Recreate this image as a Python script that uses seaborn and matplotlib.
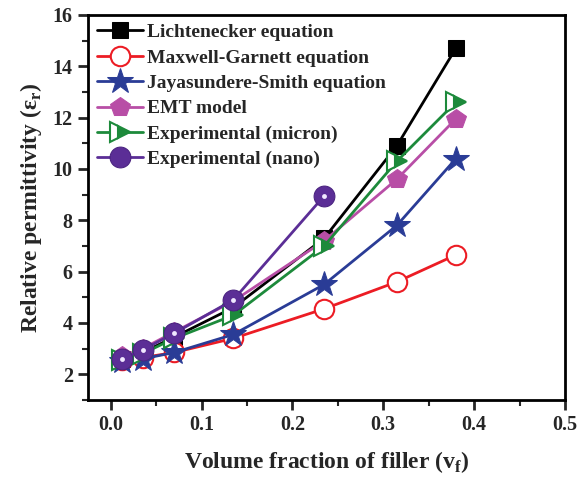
import matplotlib
matplotlib.use("Agg")
import matplotlib.pyplot as plt
import seaborn as sns
import pandas as pd
from matplotlib.ticker import MultipleLocator

sns.set_theme(style="ticks")
plt.rcParams['font.family'] = ['Liberation Serif', 'DejaVu Serif']
plt.rcParams['font.weight'] = 'bold'
plt.rcParams['axes.labelweight'] = 'bold'
plt.rcParams['mathtext.default'] = 'bf'

vf = [0.0125, 0.035, 0.07, 0.135, 0.235, 0.315, 0.38]
lichtenecker = [2.6, 2.85, 3.45, 4.6, 7.3, 10.9, 14.7]
maxwell = [2.55, 2.65, 2.85, 3.4, 4.55, 5.6, 6.65]
jayasundere = [2.5, 2.6, 2.85, 3.55, 5.5, 7.8, 10.4]
emt = [2.7, 3.0, 3.65, 4.85, 7.2, 9.6, 11.95]
exp_micron = [2.55, 2.8, 3.4, 4.3, 7.0, 10.3, 12.6]
vf_nano = [0.0125, 0.035, 0.07, 0.135, 0.235]
exp_nano = [2.6, 2.95, 3.6, 4.9, 8.95]

labels = ["Lichtenecker equation", "Maxwell-Garnett equation",
          "Jayasundere-Smith equation", "EMT model",
          "Experimental (micron)", "Experimental (nano)"]

fig, ax = plt.subplots(figsize=(5.83, 4.79), dpi=100)
fig.subplots_adjust(left=0.151, right=0.969, top=0.969, bottom=0.165)

series = [
    (vf, lichtenecker, labels[0], dict(color="black", marker="s", markersize=12,
                                        markerfacecolor="black", markeredgecolor="black")),
    (vf, maxwell, labels[1], dict(color="#ec1c24", marker="o", markersize=14,
                                  markerfacecolor="white", markeredgecolor="#ec1c24", markeredgewidth=1.5)),
    (vf, jayasundere, labels[2], dict(color="#2a3c96", marker="*", markersize=19,
                                      markerfacecolor="#2a3c96", markeredgecolor="#2a3c96")),
    (vf, emt, labels[3], dict(color="#b84ea6", marker="p", markersize=15,
                              markerfacecolor="#b84ea6", markeredgecolor="#b84ea6")),
    (vf, exp_micron, labels[4], dict(color="#1d8a3b", marker=">", markersize=14,
                                     markerfacecolor="#1d8a3b", markerfacecoloralt="white",
                                     fillstyle="right", markeredgecolor="#1d8a3b", markeredgewidth=1.5)),
    (vf_nano, exp_nano, labels[5], dict(color="#5b2e96", marker="o", markersize=15,
                                        markerfacecolor="#5b2e96", markeredgecolor="#4a2380")),
]

for xs, ys, lab, kw in series:
    df = pd.DataFrame({"x": xs, "y": ys})
    sns.lineplot(data=df, x="x", y="y", ax=ax, label=lab, linewidth=2,
                 estimator=None, sort=False, **kw)

# highlight on nano spheres
dfn = pd.DataFrame({"x": vf_nano, "y": exp_nano})
ax.plot(dfn["x"], dfn["y"], linestyle="none", marker="o", markersize=3.5,
        markeredgewidth=0, color="#f0e8ff")

ax.set_xlim(-0.025, 0.5)
ax.set_ylim(1, 16)
ax.xaxis.set_minor_locator(MultipleLocator(0.05))
ax.yaxis.set_minor_locator(MultipleLocator(1))
ax.set_yticks([2, 4, 6, 8, 10, 12, 14, 16])
ax.set_xticks([0.0, 0.1, 0.2, 0.3, 0.4, 0.5])
ax.set_xticklabels(["0.0", "0.1", "0.2", "0.3", "0.4", "0.5"])
ax.tick_params(axis="both", which="major", direction="out", length=7, width=2,
               labelsize=14.5, top=False, right=False, pad=4)
ax.tick_params(axis="both", which="minor", direction="out", length=4, width=1.5,
               top=False, right=False)
for t in ax.get_xticklabels() + ax.get_yticklabels():
    t.set_fontweight("bold")
for s in ax.spines.values():
    s.set_linewidth(2)
    s.set_color("black")

ax.set_xlabel("Volume fraction of filler (v$_\\mathregular{f}$)", fontsize=17,
              fontweight="bold", labelpad=10)
ax.set_ylabel("Relative permittivity (ε$_\\mathregular{r}$)", fontsize=17,
              fontweight="bold", labelpad=6)

leg = ax.legend(loc="upper left", frameon=False, handlelength=2.4,
                handletextpad=0.2, labelspacing=0.4, borderaxespad=0.15,
                borderpad=0.3, prop={"weight": "bold", "size": 14})

fig.savefig("out.png", dpi=100)
